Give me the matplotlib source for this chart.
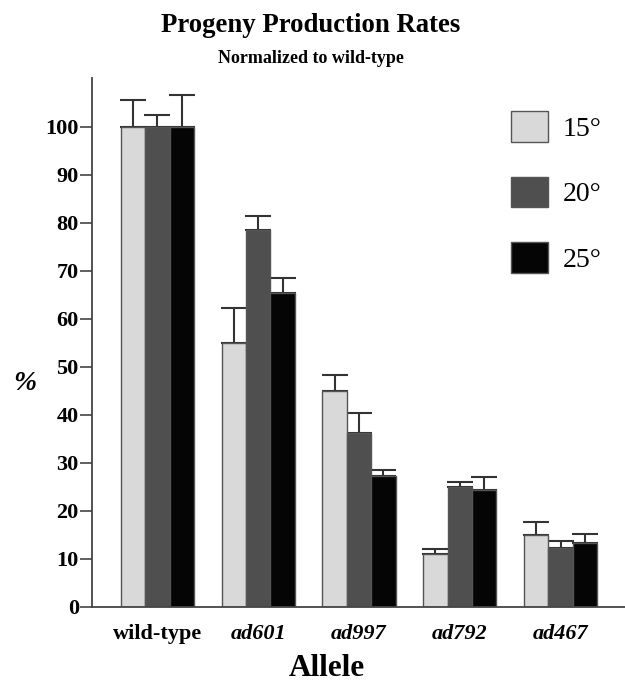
import numpy as np
import matplotlib
matplotlib.use("Agg")
import matplotlib.pyplot as plt
from matplotlib.patches import Patch

# Data
alleles = ["wild-type", "ad601", "ad997", "ad792", "ad467"]
temps = ["15°", "20°", "25°"]
rate_15 = [100, 55, 45, 11, 15]
rate_20 = [100, 78.5, 36.3, 24.9, 12.3]
rate_25 = [100, 65.5, 27.3, 24.4, 13.4]
err_15 = [5.6, 7.2, 3.3, 1.1, 2.7]
err_20 = [2.4, 2.9, 4.1, 1.2, 1.5]
err_25 = [6.7, 3.0, 1.2, 2.6, 1.9]

colors = ["#d9d9d9", "#4f4f4f", "#050505"]
edge = "#555555"

plt.rcParams["font.family"] = ["Liberation Serif", "DejaVu Serif"]

fig = plt.figure(figsize=(6.25, 6.84), dpi=100)
ax = fig.add_axes([0.1472, 0.1126, 0.8528, 0.7734])

x = np.arange(len(alleles))
w = 0.243
series = [rate_15, rate_20, rate_25]
errs = [err_15, err_20, err_25]
for i in range(3):
    pos = x + (i - 1) * w
    ax.bar(pos, series[i], w, color=colors[i], edgecolor=edge, linewidth=1.0, zorder=2)
    # one-sided (upper) error bars
    ax.errorbar(pos, series[i], yerr=[np.zeros(len(pos)), errs[i]], fmt="none",
                ecolor="#333333", elinewidth=1.5, capsize=9.5, capthick=1.5, zorder=1)

ax.set_xlim(-0.65, 4.64)
ax.set_ylim(0, 110.2)
ax.set_yticks(range(0, 101, 10))
ax.set_xticks(x)
ax.set_xticklabels(alleles)
for lab in ax.get_xticklabels():
    lab.set_fontweight("bold")
    lab.set_fontsize(16)
    if lab.get_text() != "wild-type":
        lab.set_style("italic")
ax.tick_params(axis="x", length=0, pad=12)
ax.tick_params(axis="y", length=8.5, width=1.2, color="#444444", labelsize=16, pad=1)
for lab in ax.get_yticklabels():
    lab.set_fontweight("bold")

for s in ["top", "right"]:
    ax.spines[s].set_visible(False)
for s in ["left", "bottom"]:
    ax.spines[s].set_color("#444444")
    ax.spines[s].set_linewidth(1.3)

fig.text(0.523, 0.023, "Allele", fontsize=22.5, fontweight="bold",
         ha="center", va="center")
fig.text(0.04, 0.44, "%", fontsize=20, fontweight="bold", style="italic",
         ha="center", va="center")

fig.text(0.497, 0.962, "Progeny Production Rates", fontsize=19.3, fontweight="bold",
         ha="center", va="center")
fig.text(0.497, 0.914, "Normalized to wild-type", fontsize=13, fontweight="bold",
         ha="center", va="center")

handles = [Patch(facecolor=colors[i], edgecolor=edge, label=temps[i]) for i in range(3)]
ax.legend(handles=handles, loc="upper left", bbox_to_anchor=(0.817, 0.838),
          bbox_transform=fig.transFigure, frameon=False, fontsize=20,
          handlelength=1.33, handleheight=1.33, labelspacing=1.26,
          handletextpad=0.55, borderpad=0, borderaxespad=0)

fig.savefig("out.png", dpi=100)
